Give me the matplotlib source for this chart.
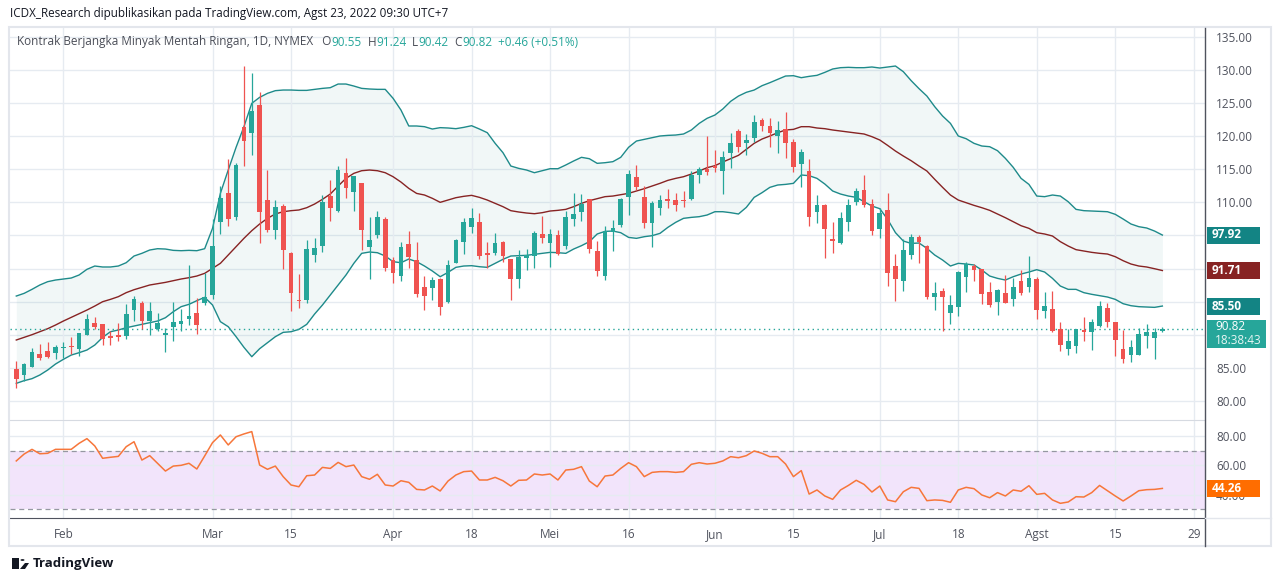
import matplotlib
matplotlib.use("Agg")
import matplotlib.pyplot as plt
from matplotlib.patches import Rectangle, Circle, Polygon
from matplotlib.lines import Line2D
import numpy as np

# --- daily OHLC, one entry per trading day (24 Jan .. 23 Aug 2022) ---
opens = [84.78, 83.98, 85.19, 87.10, 87.55, 87.30, 88.06, 88.36, 87.90, 89.97,
         91.73, 91.63, 89.82, 89.97, 89.82, 93.80, 94.80, 92.13, 90.83, 90.02,
         91.18, 91.63, 92.44, 93.24, 94.85, 96.00, 107.04, 111.37, 107.85, 121.34,
         120.53, 124.71, 110.36, 105.83, 109.46, 102.36, 95.26, 95.26, 102.10, 103.46,
         110.97, 108.75, 114.39, 111.62, 112.88, 103.31, 105.13, 107.44, 101.25, 98.93,
         103.72, 101.30, 97.22, 97.12, 98.43, 95.00, 100.90, 104.07, 106.33, 106.99,
         102.36, 102.41, 104.02, 101.40, 98.43, 101.65, 101.95, 105.23, 103.92, 105.08,
         103.46, 107.54, 108.60, 110.46, 102.66, 98.93, 105.58, 106.64, 110.87, 113.89,
         110.87, 106.94, 109.20, 110.51, 110.36, 110.36, 110.56, 114.14, 115.10, 115.50,
         114.79, 117.51, 120.79, 119.02, 119.78, 122.45, 121.54, 120.08, 121.04, 119.17,
         115.85, 114.74, 108.60, 109.61, 104.42, 103.92, 107.09, 110.11, 111.87, 109.76,
         105.93, 108.85, 100.39, 98.18, 102.05, 104.82, 103.46, 95.76, 96.62, 93.34,
         94.25, 98.78, 100.39, 99.94, 96.47, 95.00, 96.27, 95.41, 98.13, 97.27,
         98.42, 93.59, 93.89, 90.82, 87.85, 88.30, 90.72, 90.47, 91.37, 93.99,
         91.88, 87.80, 86.94, 86.94, 89.81, 89.56, 90.55]
highs = [86.04, 85.79, 88.00, 88.61, 88.86, 88.46, 88.86, 89.67, 90.32, 93.14,
         92.69, 91.70, 90.57, 91.73, 94.65, 95.86, 95.06, 94.95, 93.24, 90.98,
         94.90, 93.84, 100.54, 95.61, 99.28, 107.44, 112.48, 116.56, 115.90, 130.60,
         129.50, 126.73, 114.89, 110.36, 109.76, 102.56, 99.18, 104.32, 104.57, 111.12,
         113.38, 115.50, 116.71, 114.00, 112.90, 107.74, 108.70, 107.74, 101.70, 103.97,
         105.68, 104.07, 98.88, 98.68, 98.53, 101.30, 104.42, 107.59, 109.15, 108.35,
         103.97, 105.33, 104.12, 101.50, 102.81, 102.96, 105.63, 107.95, 105.93, 105.83,
         108.70, 111.37, 111.27, 110.50, 104.17, 106.44, 107.34, 110.72, 114.89, 115.65,
         112.48, 110.26, 111.12, 111.97, 111.47, 111.72, 114.79, 115.40, 120.03, 117.92,
         117.81, 120.53, 121.09, 120.33, 123.20, 122.80, 122.80, 122.30, 123.66, 119.53,
         118.02, 116.56, 111.12, 109.76, 106.99, 108.50, 110.46, 112.23, 114.14, 110.46,
         109.10, 111.37, 102.21, 104.42, 105.23, 105.08, 103.57, 97.93, 97.02, 96.01,
         99.69, 101.05, 100.70, 99.95, 97.93, 96.87, 99.03, 98.53, 99.79, 101.90,
         98.78, 96.41, 96.61, 91.88, 90.82, 90.85, 92.63, 92.33, 95.10, 94.75,
         91.98, 90.72, 89.21, 90.97, 91.63, 91.07, 91.24]
lows = [82.01, 83.07, 85.09, 86.20, 86.55, 86.40, 86.55, 87.10, 86.85, 89.90,
        90.88, 88.46, 88.46, 89.11, 89.31, 92.13, 90.83, 89.97, 90.57, 87.45,
        89.11, 90.57, 91.43, 90.12, 94.50, 95.36, 105.23, 106.49, 107.34, 115.50,
        117.16, 103.82, 105.58, 104.47, 99.89, 93.65, 94.05, 94.85, 101.05, 102.56,
        107.24, 108.50, 110.72, 108.75, 102.81, 98.48, 104.67, 99.69, 97.88, 98.18,
        100.04, 95.76, 93.75, 95.26, 92.99, 94.85, 100.80, 102.21, 105.43, 101.45,
        100.04, 102.10, 101.05, 95.26, 97.12, 99.79, 100.14, 103.92, 100.29, 102.05,
        102.96, 106.49, 107.24, 102.31, 98.93, 98.28, 102.71, 106.33, 108.10, 111.87,
        106.18, 103.31, 108.10, 109.20, 108.75, 109.36, 110.36, 112.98, 114.14, 114.64,
        111.27, 115.25, 117.66, 117.16, 119.17, 120.84, 118.42, 117.51, 116.76, 114.64,
        112.38, 106.49, 106.94, 101.65, 102.41, 103.72, 105.73, 109.61, 109.36, 105.08,
        104.67, 97.37, 95.16, 96.67, 101.45, 100.90, 95.41, 93.75, 90.62, 91.63,
        92.84, 96.52, 98.18, 94.65, 94.25, 92.99, 94.80, 94.35, 96.01, 96.52,
        92.38, 92.58, 90.47, 87.55, 86.94, 87.30, 89.06, 87.70, 91.22, 91.22,
        86.79, 85.79, 85.94, 86.90, 87.95, 86.34, 90.42]
closes = [83.27, 85.59, 87.35, 86.55, 86.70, 88.16, 88.16, 88.20, 90.22, 92.39,
          91.18, 89.31, 89.57, 89.72, 93.14, 95.41, 92.03, 93.59, 91.73, 90.22,
          91.88, 92.03, 92.84, 91.48, 95.66, 103.41, 110.72, 107.49, 115.65, 119.33,
          123.81, 108.55, 105.83, 109.26, 102.81, 96.37, 95.06, 102.96, 103.11, 110.11,
          109.20, 114.89, 112.23, 113.99, 105.83, 104.32, 107.74, 100.14, 99.28, 103.21,
          101.80, 96.11, 95.91, 98.28, 94.25, 100.49, 104.32, 106.99, 107.59, 101.95,
          102.10, 103.82, 101.90, 98.43, 101.70, 102.00, 105.33, 104.67, 105.18, 102.16,
          107.74, 108.25, 109.76, 102.96, 99.69, 105.63, 106.13, 110.46, 114.29, 112.38,
          106.94, 109.96, 110.36, 110.26, 109.66, 110.26, 114.14, 115.00, 114.64, 115.25,
          116.81, 118.92, 118.42, 119.43, 122.15, 121.54, 120.53, 120.94, 118.92, 115.30,
          117.56, 107.85, 109.61, 106.03, 104.22, 107.59, 109.61, 111.72, 109.61, 105.73,
          108.35, 99.39, 98.48, 102.81, 104.82, 104.02, 95.66, 96.27, 95.76, 94.50,
          99.54, 100.64, 99.79, 96.16, 94.50, 96.77, 94.85, 97.17, 96.37, 98.53,
          93.74, 94.35, 90.57, 88.46, 89.06, 90.82, 90.47, 91.88, 94.35, 91.98,
          89.21, 86.34, 88.10, 90.12, 90.47, 90.47, 90.82]
change = 0.46
change_pct = 0.51

# --- Bollinger Bands (own overlay scale) ---
bb_upper = [87.25, 87.72, 88.42, 89.18, 89.76, 90.05, 90.23, 90.40, 90.93, 91.92,
            92.50, 92.33, 92.33, 92.50, 93.08, 94.25, 94.72, 95.30, 95.53, 95.47,
            95.24, 95.18, 95.24, 95.18, 95.53, 99.09, 105.21, 109.29, 113.26, 116.87,
            120.95, 122.00, 122.70, 123.17, 123.28, 123.28, 123.22, 123.22, 123.40, 123.57,
            123.69, 124.33, 124.33, 123.98, 123.57, 123.46, 123.40, 123.40, 121.83, 119.79,
            116.99, 116.99, 116.87, 116.46, 116.70, 116.64, 116.52, 116.75, 117.04, 116.46,
            115.82, 113.96, 112.32, 109.99, 109.58, 109.29, 108.82, 109.17, 109.52, 109.52,
            110.17, 110.87, 111.51, 111.27, 110.46, 110.57, 110.75, 111.51, 113.26, 114.36,
            114.65, 114.95, 115.24, 115.35, 115.41, 115.59, 116.29, 117.45, 118.33, 118.91,
            119.96, 121.30, 122.23, 122.88, 123.28, 124.04, 124.57, 125.15, 125.73, 125.79,
            125.44, 125.67, 125.85, 126.37, 126.96, 127.19, 127.25, 127.19, 127.19, 127.31,
            127.13, 127.31, 127.48, 126.49, 124.92, 123.52, 122.23, 120.37, 118.74, 117.45,
            115.24, 114.77, 113.96, 113.49, 113.37, 112.67, 111.33, 109.76, 107.83, 106.78,
            104.74, 104.63, 104.92, 104.74, 103.75, 102.41, 102.18, 102.12, 102.06, 102.00,
            101.54, 100.72, 99.85, 99.38, 99.15, 98.62, 97.92]
bb_basis = [79.56, 80.02, 80.49, 81.01, 81.54, 82.18, 82.88, 83.52, 84.16, 84.80,
            85.50, 86.26, 86.67, 87.14, 87.84, 88.36, 88.77, 89.18, 89.41, 89.64,
            89.94, 90.23, 90.46, 90.75, 91.22, 92.09, 92.97, 94.42, 95.88, 97.34,
            98.68, 99.85, 100.84, 101.60, 102.00, 102.18, 102.30, 102.70, 103.34, 104.16,
            105.09, 106.49, 107.83, 108.71, 109.17, 109.29, 109.17, 108.82, 108.12, 107.19,
            106.08, 105.20, 104.92, 104.34, 103.64, 104.04, 104.45, 104.69, 104.86, 104.51,
            104.04, 103.46, 102.88, 102.18, 101.95, 101.77, 101.65, 101.83, 102.12, 102.24,
            102.41, 102.88, 103.46, 103.93, 104.28, 104.63, 104.74, 104.98, 105.21, 105.62,
            106.03, 106.49, 106.96, 107.48, 107.83, 108.12, 108.59, 109.12, 109.70, 110.05,
            110.69, 111.27, 111.86, 112.91, 113.96, 114.71, 115.24, 115.82, 116.29, 116.40,
            116.87, 116.87, 116.64, 116.52, 116.29, 116.11, 115.94, 115.76, 115.59, 115.12,
            114.54, 113.60, 112.61, 111.74, 110.92, 109.99, 109.12, 107.66, 106.26, 104.92,
            104.04, 103.58, 103.11, 102.70, 102.24, 101.60, 100.95, 100.25, 99.55, 99.09,
            98.33, 98.10, 97.75, 96.76, 96.00, 95.36, 95.12, 94.89, 94.72, 94.60,
            94.13, 93.43, 92.85, 92.50, 92.33, 92.03, 91.71]
bb_lower = [71.98, 72.45, 72.80, 73.44, 74.31, 75.36, 76.18, 76.93, 77.34, 77.81,
            78.68, 80.02, 81.01, 81.31, 81.71, 82.01, 82.30, 82.59, 82.88, 83.46,
            84.51, 85.39, 85.80, 86.44, 87.02, 85.68, 82.77, 81.89, 80.14, 78.28,
            76.64, 78.04, 79.09, 80.14, 80.90, 81.01, 81.42, 82.30, 84.10, 85.68,
            87.43, 89.18, 90.93, 92.97, 94.72, 94.95, 94.83, 94.25, 93.26, 93.08,
            93.72, 93.26, 92.50, 91.63, 90.63, 91.39, 92.27, 92.50, 92.56, 92.38,
            92.27, 92.97, 93.67, 94.25, 94.31, 94.37, 94.54, 94.72, 94.89, 94.83,
            94.72, 95.47, 96.06, 96.76, 98.10, 98.56, 98.62, 98.33, 97.51, 97.34,
            97.63, 97.81, 98.21, 99.26, 100.14, 100.84, 101.01, 101.13, 101.42, 102.00,
            102.00, 101.83, 101.60, 102.76, 104.51, 105.33, 106.26, 106.67, 106.78, 106.96,
            108.42, 108.30, 107.83, 106.84, 105.62, 105.09, 104.74, 104.51, 103.75, 102.99,
            102.53, 100.66, 98.33, 96.87, 96.46, 96.52, 95.59, 94.42, 93.55, 92.50,
            92.97, 92.85, 92.68, 91.80, 90.75, 90.34, 90.05, 90.63, 91.10, 91.45,
            91.86, 91.45, 90.34, 89.00, 88.42, 88.42, 87.84, 87.55, 87.31, 87.08,
            86.67, 85.91, 85.56, 85.39, 85.33, 85.27, 85.50]

# --- RSI(14) ---
rsi = [63.0, 67.7, 70.9, 67.9, 68.2, 70.9, 70.9, 70.9, 75.0, 78.2,
       73.2, 64.8, 65.5, 66.1, 72.7, 76.1, 63.6, 66.6, 61.4, 56.1,
       59.5, 60.0, 61.4, 57.5, 66.4, 75.5, 80.7, 73.9, 79.5, 81.4,
       83.0, 60.2, 57.3, 59.5, 52.3, 46.6, 45.4, 52.9, 53.4, 58.6,
       57.9, 62.0, 59.1, 60.2, 52.3, 50.5, 53.9, 46.6, 45.9, 49.5,
       48.4, 43.6, 43.2, 45.9, 42.5, 49.3, 53.4, 55.7, 56.1, 50.0,
       50.0, 51.8, 49.5, 45.9, 49.8, 50.0, 54.1, 53.4, 54.1, 50.0,
       56.8, 57.3, 59.1, 49.3, 45.4, 52.7, 53.4, 57.9, 61.8, 59.1,
       52.3, 55.2, 55.7, 55.7, 55.2, 55.7, 60.7, 61.8, 60.9, 61.4,
       63.0, 65.9, 65.2, 66.6, 69.8, 68.2, 65.9, 65.9, 60.9, 52.3,
       56.4, 40.4, 43.2, 39.1, 36.8, 43.2, 46.3, 49.8, 47.0, 41.8,
       45.9, 36.4, 35.2, 42.0, 45.0, 44.3, 35.9, 36.4, 36.1, 34.8,
       43.2, 45.0, 44.1, 39.8, 37.9, 41.4, 39.1, 43.2, 42.3, 46.1,
       40.2, 40.9, 36.4, 34.1, 35.0, 38.6, 38.4, 41.4, 46.3, 42.7,
       39.1, 35.7, 39.1, 42.7, 43.4, 43.6, 44.26]

# date axis: candle index of each label
date_ticks = [6, 25, 35, 48, 58, 68, 78, 89, 99, 110, 120, 130, 140, 150]
date_labels = ["Feb", "Mar", "15", "Apr", "18", "Mei", "16", "Jun", "15",
               "Jul", "18", "Agst", "15", "29"]
price_ticks = [80, 85, 90, 95, 100, 105, 110, 115, 120, 125, 130, 135]
rsi_ticks = [40, 60, 80]

GREEN = "#26a69a"
RED = "#ef5350"
BAND = "#1e8a8a"
BASIS = "#872323"
GRID = "#e6ebf1"
TXT = "#131722"
AXTXT = "#50535e"
FONT = ["Open Sans", "DejaVu Sans"]

plt.rcParams["font.family"] = FONT

W, H = 1280, 581


def fx(x):
    return x / W


def fy(y):
    return 1 - y / H


fig = plt.figure(figsize=(W / 100, H / 100), dpi=100)
fig.patch.set_facecolor("white")

# outer frame
fig.add_artist(Rectangle((fx(9), fy(546)), fx(1271) - fx(9), fy(27) - fy(546),
                         transform=fig.transFigure, fill=False,
                         edgecolor="#e3e6ec", linewidth=1.5))

L, R = 10, 1205
ax_bb = fig.add_axes([fx(L), fy(420), fx(R) - fx(L), fy(28) - fy(420)])
ax = fig.add_axes([fx(L), fy(420), fx(R) - fx(L), fy(28) - fy(420)], sharex=ax_bb)
ax_rsi = fig.add_axes([fx(L), fy(518), fx(R) - fx(L), fy(420) - fy(518)], sharex=ax_bb)
ax.patch.set_visible(False)

idx = np.arange(len(closes))
o = np.array(opens)
h = np.array(highs)
lo = np.array(lows)
c = np.array(closes)

xlim = (-0.8, 151.43)
price_lim = (77.13, 136.34)
bb_lim = (65.57, 134.13)
ax_bb.set_xlim(*xlim)
ax.set_ylim(*price_lim)
ax_bb.set_ylim(*bb_lim)
ax_rsi.set_ylim(24.09, 90.91)

# grids (drawn on the back axes so candles sit on top)
ax_bb.set_xticks(date_ticks)
ax_bb.set_yticks([])
ax_bb.grid(True, axis="x", color=GRID, linewidth=1)
for p in price_ticks:
    ax_bb.axhline(np.interp(p, price_lim, bb_lim), color=GRID, linewidth=1, zorder=0)

# Bollinger Bands
ax_bb.fill_between(idx, bb_lower, bb_upper, color="#138484", alpha=0.06, linewidth=0)
ax_bb.plot(idx, bb_upper, color=BAND, linewidth=1.0)
ax_bb.plot(idx, bb_lower, color=BAND, linewidth=1.0)
ax_bb.plot(idx, bb_basis, color=BASIS, linewidth=1.0)

# candles
up = c >= o
colors = np.where(up, GREEN, RED)
ax.vlines(idx, lo, h, colors=colors, linewidth=0.9, zorder=3)
body_lo = np.minimum(o, c)
body_h = np.maximum(np.abs(c - o), 0.16)
ax.bar(idx, body_h, bottom=body_lo, width=0.6, color=colors, linewidth=0, zorder=4)
ax.axhline(c[-1], color=GREEN, linewidth=1, linestyle=(0, (1, 2.5)), zorder=2)

# price scale: 90, 100 and 105 sit fully under the last-value tags
shown = [p for p in price_ticks if p not in (90, 100, 105)]
ax.set_yticks(shown)
ax.set_yticklabels([f"{p:.2f}" for p in shown])
ax.yaxis.tick_right()
ax.tick_params(axis="y", length=0, pad=8, labelsize=8.5, labelcolor=AXTXT)
ax.tick_params(axis="x", length=0, labelbottom=False)
ax_bb.tick_params(axis="x", length=0, labelbottom=False)

# RSI pane
ax_rsi.set_yticks(rsi_ticks)
ax_rsi.set_yticklabels([f"{v:.2f}" for v in rsi_ticks])
ax_rsi.yaxis.tick_right()
ax_rsi.grid(True, color=GRID, linewidth=1, zorder=0)
ax_rsi.axhspan(30, 70, color="#9c27e0", alpha=0.12, linewidth=0, zorder=1)
for lvl in (70, 30):
    ax_rsi.axhline(lvl, color="#9598a1", linewidth=0.9, linestyle=(0, (4, 3)), zorder=2)
ax_rsi.plot(idx, rsi, color="#f7763a", linewidth=1.1, zorder=3)
ax_rsi.tick_params(axis="y", length=0, pad=8, labelsize=8.5, labelcolor=AXTXT)
ax_rsi.set_xticks(date_ticks)
ax_rsi.set_xticklabels(date_labels)
ax_rsi.tick_params(axis="x", length=0, pad=7, labelsize=8.5, labelcolor=AXTXT)

for a in (ax, ax_bb, ax_rsi):
    for s in a.spines.values():
        s.set_visible(False)
ax_rsi.spines["top"].set_visible(True)
ax_rsi.spines["top"].set_color("#d6dae1")
ax_rsi.spines["bottom"].set_visible(True)
ax_rsi.spines["bottom"].set_color("#50535e")

# right price scale border
fig.add_artist(Line2D([fx(1205), fx(1205)], [fy(28), fy(546)], transform=fig.transFigure,
                      color="#50535e", linewidth=1))
fig.add_artist(Line2D([fx(1205), fx(1271)], [fy(518), fy(518)], transform=fig.transFigure,
                      color="#e3e6ec", linewidth=1))


def tag(y, text, color, h=17, x0=1207, x1=1260, size=8.5):
    fig.add_artist(Rectangle((fx(x0), fy(y + h / 2)), fx(x1) - fx(x0), h / H,
                             transform=fig.transFigure, facecolor=color,
                             edgecolor="none", zorder=10))
    fig.text(fx(x0 + 5), fy(y), text, color="white", fontsize=size,
             fontweight="bold", va="center", ha="left", zorder=11)


tag(235, f"{bb_upper[-1]:.2f}", "#138484")
tag(270, f"{bb_basis[-1]:.2f}", BASIS)
tag(306, f"{bb_lower[-1]:.2f}", "#138484")
tag(488, f"{rsi[-1]:.2f}", "#ff6d00")
fig.add_artist(Rectangle((fx(1207), fy(348)), fx(1266) - fx(1207), 28 / H,
                         transform=fig.transFigure, facecolor=GREEN,
                         edgecolor="none", zorder=10))
fig.text(fx(1215), fy(327), f"{c[-1]:.2f}", color="white", fontsize=8.5,
         va="center", ha="left", zorder=11)
fig.text(fx(1215), fy(341), "18:38:43", color="#e8f6f4", fontsize=8.5,
         va="center", ha="left", zorder=11)

# header texts
fig.text(fx(10), fy(13), "ICDX_Research dipublikasikan pada TradingView.com, "
         "Agst 23, 2022 09:30 UTC+7", color=TXT, fontsize=8.4, va="center")

pieces = [("Kontrak Berjangka Minyak Mentah Ringan, 1D, NYMEX   O", "#4a4d57"),
          (f"{opens[-1]:.2f}", GREEN), ("  H", "#4a4d57"), (f"{highs[-1]:.2f}", GREEN),
          ("  L", "#4a4d57"), (f"{lows[-1]:.2f}", GREEN), ("  C", "#4a4d57"),
          (f"{closes[-1]:.2f}", GREEN),
          (f"  +{change:.2f} (+{change_pct:.2f}%)", GREEN)]
renderer = fig.canvas.get_renderer()
xpos = 17
for s, col in pieces:
    t = fig.text(fx(xpos), fy(42), s, color=col, fontsize=8.5, va="center", ha="left")
    xpos += t.get_window_extent(renderer).width

# TradingView mark
fig.add_artist(Rectangle((fx(12), fy(569)), 7 / W, 11 / H, transform=fig.transFigure,
                         facecolor=TXT, edgecolor="none"))
fig.add_artist(Circle((fx(22.5), fy(560)), 2 / W, transform=fig.transFigure,
                      facecolor=TXT, edgecolor="none"))
fig.add_artist(Polygon([(fx(20), fy(569)), (fx(25), fy(563)), (fx(29), fy(563)),
                        (fx(25), fy(569))], closed=True, transform=fig.transFigure,
                       facecolor=TXT, edgecolor="none"))
fig.text(fx(33), fy(563), "TradingView", color=TXT, fontsize=9.5, va="center",
         ha="left", fontweight="bold")

fig.savefig("out.png", dpi=100)
